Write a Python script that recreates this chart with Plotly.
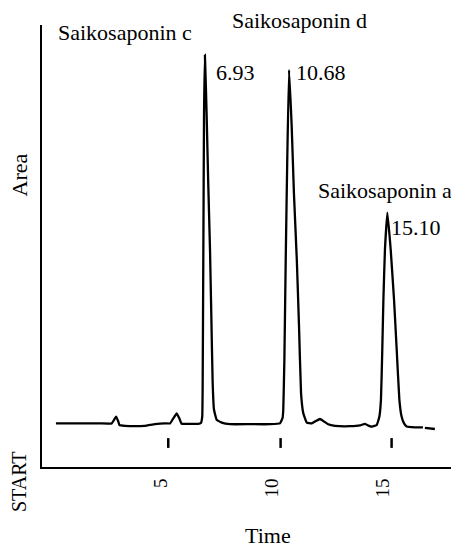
import plotly.graph_objects as go

# Chromatogram trace (time in min, signal in arbitrary area units)
time_min = [0.29, 1.37, 2.27, 2.80, 2.91, 3.00, 3.09, 3.15, 3.40, 3.85, 4.30, 4.75, 5.20,
            5.43, 5.56, 5.73, 5.86, 5.95, 6.33, 6.69, 6.82, 6.88, 6.90, 6.93, 6.96, 7.00,
            7.08, 7.15, 7.23, 7.29, 7.35, 7.41, 7.53, 7.76, 8.13, 9.03, 9.93, 10.38, 10.50,
            10.53, 10.58, 10.64, 10.71, 10.79, 10.91, 11.01, 11.14, 11.24, 11.33, 11.43,
            11.59, 11.81, 12.00, 12.18, 12.36, 12.55, 12.86, 13.54, 13.99, 14.21, 14.39,
            14.53, 14.74, 14.86, 14.93, 14.99, 15.04, 15.11, 15.22, 15.37, 15.52, 15.64,
            15.76, 15.86, 15.97, 16.09, 16.46, 16.82, None, 16.91, 17.36]
signal = [10.9, 10.9, 10.9, 10.9, 11.8, 12.6, 11.5, 10.5, 10.3, 10.2, 10.3, 10.7, 10.9,
          10.9, 12.0, 13.4, 12.0, 10.8, 10.8, 10.8, 11.0, 12.6, 21.0, 54.3, 87.6, 103.0,
          87.6, 71.0, 54.3, 37.6, 21.0, 14.3, 11.8, 11.1, 10.7, 10.7, 10.7, 10.9, 12.3,
          14.3, 26.8, 51.8, 76.8, 99.3, 85.1, 68.5, 51.8, 35.1, 18.5, 13.5,
          11.1, 10.9, 11.5, 12.0, 11.4, 10.7, 10.3, 10.2, 10.4, 10.8, 10.3,
          10.1, 10.5, 12.6, 16.8, 29.3, 41.8, 54.3, 63.6, 54.3, 41.8, 29.3,
          16.8, 12.6, 10.9, 10.1, 9.9, 9.9, None, 9.8, 9.5]

# Small recorder marks below the baseline
mark_times = [5.35, 10.41, 15.41]
mark_level = [6.0, 6.0, 6.0]

# Peak annotations
compound_names = ["Saikosaponin c", "Saikosaponin d", "Saikosaponin a"]
retention_labels = ["6.93", "10.68", "15.10"]

x_ticks = [5, 10, 15]
x_tick_text = ["5", "10", "15"]

FONT = "Liberation Serif, Times New Roman, serif"

# The page body adds an 8px margin; work in window pixels and shift.
OFF = 8
WIN_W, WIN_H = 459, 548
W, H = WIN_W - OFF, WIN_H - OFF
# plot area in window pixels
PX_L, PX_R, PX_T, PX_B = 42, 459, 25, 467
L, R, T, B = PX_L - OFF, WIN_W - PX_R, PX_T - OFF, WIN_H - PX_B
x0_px, px_per_min = 49.5, 22.2
xr = [(PX_L - x0_px) / px_per_min, (PX_R - x0_px) / px_per_min]
yr = [0, (PX_B - PX_T) / 4]


def paper_x(px):
    return (px - PX_L) / (PX_R - PX_L)


def paper_y(py):
    return (PX_B - py) / (PX_B - PX_T)


fig = go.Figure()
fig.add_trace(go.Scatter(x=time_min, y=signal, mode="lines",
                         line=dict(color="black", width=2.3, shape="spline", smoothing=0.3),
                         connectgaps=False, hoverinfo="skip", showlegend=False))
fig.add_trace(go.Scatter(x=mark_times, y=mark_level, mode="markers",
                         marker=dict(symbol="line-ns", size=7,
                                     line=dict(color="black", width=2.5)),
                         hoverinfo="skip", showlegend=False))

annots = []
name_pos = [(57, 32), (231, 20.5), (316.5, 190)]
for name, (px, py) in zip(compound_names, name_pos):
    annots.append(dict(x=paper_x(px), y=paper_y(py), xref="paper", yref="paper",
                       text=name, showarrow=False, xanchor="left", yanchor="middle",
                       borderpad=0,
                       font=dict(family=FONT, size=22, color="black")))
rt_pos = [(215, 72.6), (295, 72.6), (390, 227.6)]
for lab, (px, py) in zip(retention_labels, rt_pos):
    annots.append(dict(x=paper_x(px), y=paper_y(py), xref="paper", yref="paper",
                       text=lab, showarrow=False, xanchor="left", yanchor="middle",
                       borderpad=0,
                       font=dict(family=FONT, size=22, color="black")))
annots.append(dict(x=paper_x(18.5), y=paper_y(175), xref="paper", yref="paper",
                   text="Area", textangle=-90, showarrow=False,
                   xanchor="center", yanchor="middle", borderpad=0,
                   font=dict(family=FONT, size=22, color="black")))
annots.append(dict(x=paper_x(18.5), y=paper_y(481.5), xref="paper", yref="paper",
                   text="START", textangle=-90, showarrow=False,
                   xanchor="center", yanchor="middle", borderpad=0,
                   font=dict(family=FONT, size=20, color="black")))
annots.append(dict(x=paper_x(267.5), y=paper_y(535.5), xref="paper", yref="paper",
                   text="Time", showarrow=False, xanchor="center", yanchor="middle",
                   borderpad=0,
                   font=dict(family=FONT, size=22, color="black")))

fig.update_layout(
    width=W, height=H,
    margin=dict(l=L, r=R, t=T, b=B, pad=0),
    paper_bgcolor="white", plot_bgcolor="white",
    annotations=annots,
    xaxis=dict(range=xr, showgrid=False, zeroline=False, showline=True,
               linecolor="black", linewidth=2, ticks="", tickangle=-90,
               tickvals=x_ticks, ticktext=x_tick_text, ticklabelstandoff=2,
               tickfont=dict(family=FONT, size=19, color="black")),
    yaxis=dict(range=yr, showgrid=False, zeroline=False, showline=True,
               linecolor="black", linewidth=2, showticklabels=False, ticks=""),
)

fig.write_html("out.html")
